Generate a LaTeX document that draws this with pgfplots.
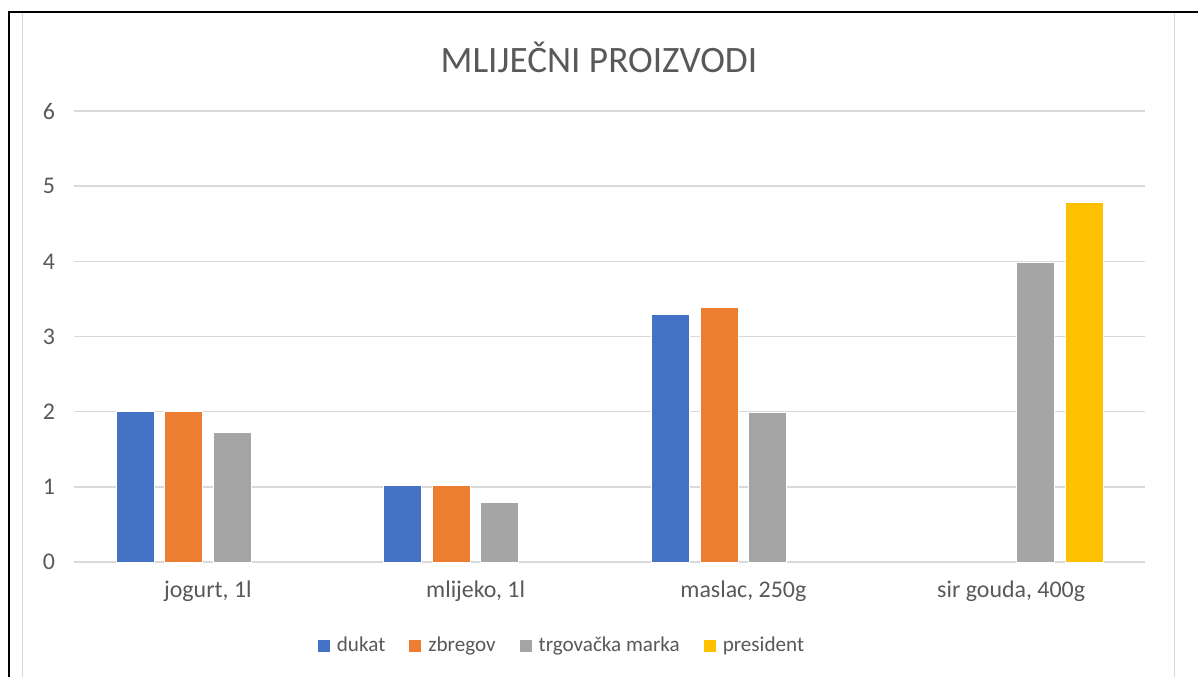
\documentclass[border=0pt]{standalone}
\usepackage{pgfplots}
\pgfplotsset{compat=1.18}
\usepackage{fontspec}
\setmainfont{Carlito}
\definecolor{cdukat}{HTML}{4472C4}
\definecolor{czbregov}{HTML}{ED7D31}
\definecolor{ctrg}{HTML}{A5A5A5}
\definecolor{cpres}{HTML}{FFC000}
\definecolor{textgray}{HTML}{595959}
\definecolor{gridgray}{HTML}{D9D9D9}
\begin{document}
\begin{tikzpicture}
\useasboundingbox (0,0) rectangle (599bp,-338.5bp);
\fill[white] (0,0) rectangle (599bp,-338.5bp);
% chart area border
\draw[gridgray, line width=0.75bp] (11.25bp,-6bp) -- (11.25bp,-340bp);
\draw[gridgray, line width=0.75bp] (587.25bp,-6bp) -- (587.25bp,-340bp);
% black frame
\draw[black, line width=1.1bp] (4.3bp,-340bp) -- (4.3bp,-5.9bp) -- (599bp,-5.9bp);
% title
\node[text=textgray, font=\fontsize{18.7}{22}\selectfont] at (299.5bp,-28.5bp) {MLIJEČNI PROIZVODI};
\begin{axis}[
  at={(37bp,-281bp)}, anchor=south west,
  width=535.5bp, height=225.5bp, scale only axis,
  xmin=-0.5, xmax=3.5, ymin=0, ymax=6,
  xtick={0,1,2,3},
  xticklabels={{jogurt, 1l},{mlijeko, 1l},{maslac, 250g},{sir gouda, 400g}},
  ytick={0,1,2,3,4,5,6},
  ymajorgrids,
  grid style={color=gridgray, line width=0.75bp},
  axis line style={draw=none},
  major tick length=0pt,
  tick label style={color=textgray, font=\fontsize{12}{14}\selectfont},
  /pgf/number format/assume math mode=true,
  yticklabel style={xshift=-6bp},
  xticklabel style={yshift=-6bp},
  ybar, bar width=19bp,
  legend columns=4,
  legend style={at={(0.4566,-0.186)}, anchor=center, draw=none, fill=none,
    font=\fontsize{10.6}{13}\selectfont, text=textgray,
    /tikz/every odd column/.append style={column sep=1.5bp},
    /tikz/every even column/.append style={column sep=10bp}},
  legend cell align=left,
  legend image code/.code={\fill[#1,draw=none] (0bp,-3bp) rectangle (6bp,3bp);},
]
\addplot[fill=cdukat, draw=white, line width=0.4bp, bar shift=-36.4bp]
  coordinates {(0,2.0) (1,1.02) (2,3.29)};
\addplot[fill=czbregov, draw=white, line width=0.4bp, bar shift=-12.1bp]
  coordinates {(0,2.0) (1,1.02) (2,3.39)};
\addplot[fill=ctrg, draw=white, line width=0.4bp, bar shift=12.1bp]
  coordinates {(0,1.72) (1,0.79) (2,1.99) (3,3.99)};
\addplot[fill=cpres, draw=white, line width=0.4bp, bar shift=36.4bp]
  coordinates {(3,4.79)};
\legend{dukat, zbregov, trgovačka marka, president}
\end{axis}
\end{tikzpicture}
\end{document}
